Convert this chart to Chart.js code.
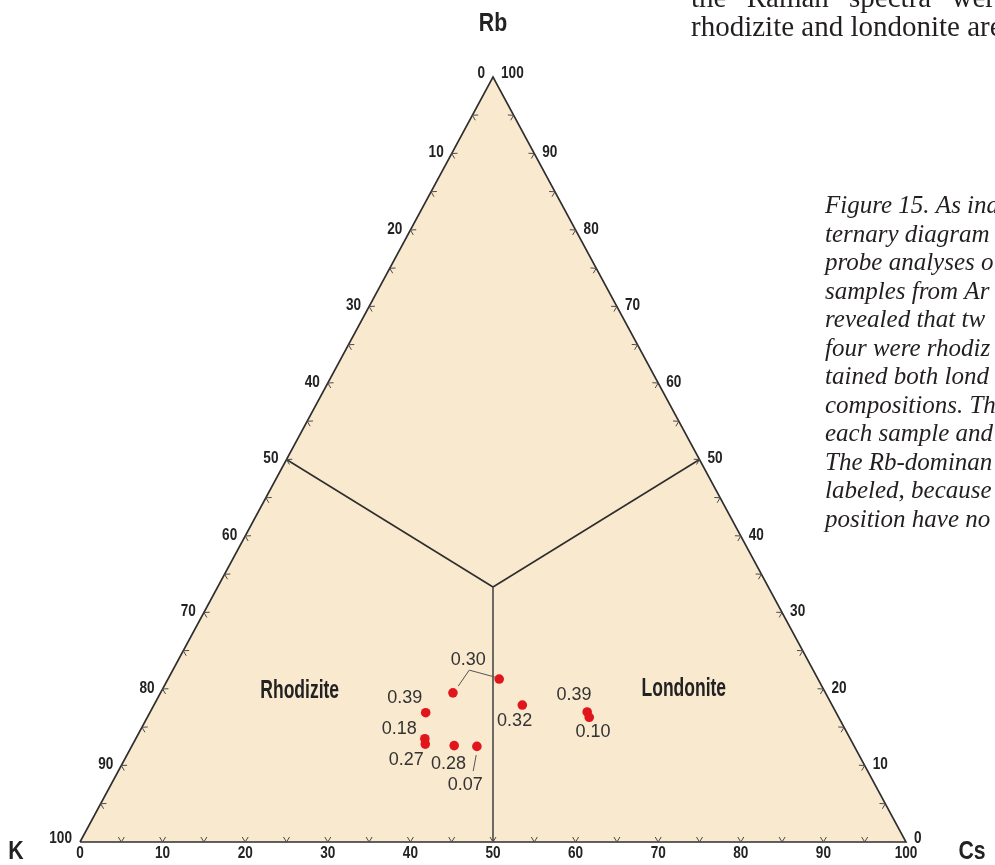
<!DOCTYPE html>
<html><head><meta charset="utf-8">
<script src="https://cdn.jsdelivr.net/npm/chart.js@4/dist/chart.umd.min.js"></script>
<style>html,body{margin:0;padding:0;background:#fff;overflow:hidden}canvas{display:block}</style>
</head><body>
<canvas id="c" width="995" height="865"></canvas>
<script>
// ---------- data (ternary compositions, %) ----------
const sampleLabels = ['0.30','0.30','0.39','0.18','0.27','0.28','0.07','0.32','0.39','0.10'];
const kPct  = [45.1, 38.6, 49.7, 51.5, 51.8, 48.4, 45.7, 37.5, 30.1, 30.2];
const rbPct = [19.5, 21.3, 16.9, 13.5, 12.8, 12.6, 12.5, 17.9, 17.0, 16.3];
const csPct = [35.4, 40.1, 33.4, 35.0, 35.4, 39.0, 41.8, 44.6, 52.9, 53.5];
const vertexNames = ['K', 'Rb', 'Cs'];
const fieldNames = ['Rhodizite', 'Londonite'];
const tickValues = [0,10,20,30,40,50,60,70,80,90,100];
const minorTickValues = [5,10,15,20,25,30,35,40,45,50,55,60,65,70,75,80,85,90,95];
const bodyLines = ['the Raman spectra were', 'rhodizite and londonite are'];
const captionLines = ['Figure 15. As ind','ternary diagram','probe analyses o','samples from Ar','revealed that tw','four were rhodiz','tained both lond','compositions. Th','each sample and','The Rb-dominan','labeled, because','position have no'];

// ---------- layout / style (not data) ----------
const FILL = '#f9e9cf', EDGE = '#2e2e2e', RED = '#e0161c';
const SANS = '"Liberation Sans", Arial, sans-serif';
const labelOffsets = [[15.3,-33],null,[-21,-14.4],[-25.7,-9.7],[-19,16],[-5.7,18.7],[-11.7,38.7],[-7.7,16],[-13.2,-17],[3.7,14.7]];
const leaders = [
  {from:0, pts:[[5.3,-6.7],[16.3,-22.7]], to:1, end:[-4.3,-2]},
  {from:6, pts:[[-0.7,8.7],[-3.7,24.7]]}
];
const fieldAnchors = [{x:26.6,y:19.7},{x:73.1,y:20.0}];
const bodyWordGap = [13, 0];   // extra px per space (justified text)

function tern(k, rb, cs){ return {x: cs + rb/2, y: rb}; }

const points = kPct.map((k,i)=>tern(k, rbPct[i], csPct[i]));
const vK = tern(100,0,0), vRb = tern(0,100,0), vCs = tern(0,0,100);
const center = tern(100/3,100/3,100/3);
const midB = tern(50,0,50), midL = tern(50,50,0), midR = tern(0,50,50);

const lineDs = (data, w, col) => ({type:'line', data, borderColor:col, borderWidth:w, pointRadius:0, fill:false, tension:0, clip:false});

function txt(ctx, s, x, y, sx, align){
  ctx.save(); ctx.translate(x,y); ctx.scale(sx,1); ctx.textAlign=align; ctx.fillText(s,0,0); ctx.restore();
}

const ternaryPlugin = {
  id:'ternary',
  beforeDatasetsDraw(chart){
    const {ctx, scales:{x,y}} = chart;
    const px = p => [x.getPixelForValue(p.x), y.getPixelForValue(p.y)];
    ctx.save();
    ctx.beginPath();
    [vK,vCs,vRb].forEach((p,i)=>{const q=px(p); i?ctx.lineTo(q[0],q[1]):ctx.moveTo(q[0],q[1]);});
    ctx.closePath(); ctx.fillStyle = FILL; ctx.fill();
    ctx.restore();
  },
  afterDatasetsDraw(chart){
    const {ctx, scales:{x,y}} = chart;
    const px = p => [x.getPixelForValue(p.x), y.getPixelForValue(p.y)];
    const cP = px(center);
    ctx.save();
    // tick chevrons
    ctx.strokeStyle = '#4a4a4a'; ctx.lineWidth = 1;
    const edges = [
      v => tern(100-v,0,v),
      v => tern(v,100-v,0),
      v => tern(0,v,100-v)
    ];
    edges.forEach(f=>{
      minorTickValues.forEach(v=>{
        const p = px(f(v)), q = px(f(v+1));
        let dx=q[0]-p[0], dy=q[1]-p[1]; const L=Math.hypot(dx,dy); dx/=L; dy/=L;
        let nx=-dy, ny=dx; if ((cP[0]-p[0])*nx+(cP[1]-p[1])*ny<0){nx=-nx;ny=-ny;}
        ctx.beginPath();
        ctx.moveTo(p[0]+dx*3+nx*5, p[1]+dy*3+ny*5);
        ctx.lineTo(p[0], p[1]);
        ctx.lineTo(p[0]-dx*3+nx*5, p[1]-dy*3+ny*5);
        ctx.stroke();
      });
    });
    // tick labels
    ctx.fillStyle = '#222'; ctx.font = 'bold 17px ' + SANS; ctx.textBaseline = 'middle';
    tickValues.forEach(v=>{
      const b = px(tern(100-v,0,v));
      txt(ctx, String(v), b[0], b[1]+11, 0.8, 'center');
      const l = px(tern(v,100-v,0));
      const dyL = (v===0||v===100)? -4 : -1;
      txt(ctx, String(v), l[0]-8, l[1]+dyL, 0.8, 'right');
      const r = px(tern(0,v,100-v));
      const dyR = (v===0||v===100)? -4 : -1;
      txt(ctx, String(v), r[0]+8, r[1]+dyR, 0.8, 'left');
    });
    // vertex names
    ctx.font = 'bold 25px ' + SANS;
    const a = px(vRb), k = px(vK), c = px(vCs);
    txt(ctx, vertexNames[1], a[0], a[1]-53, 0.85, 'center');
    txt(ctx, vertexNames[0], k[0]-64, k[1]+10, 0.85, 'center');
    txt(ctx, vertexNames[2], c[0]+66, c[1]+10, 0.85, 'center');
    // field names
    ctx.font = 'bold 25px ' + SANS;
    fieldNames.forEach((n,i)=>{const p=px(fieldAnchors[i]); txt(ctx, n, p[0], p[1], 0.7, 'center');});
    // leaders
    ctx.strokeStyle = '#555'; ctx.lineWidth = 1;
    leaders.forEach(ld=>{
      const p0 = px(points[ld.from]);
      ctx.beginPath();
      ld.pts.forEach((o,i)=>{const X=p0[0]+o[0],Y=p0[1]+o[1]; i?ctx.lineTo(X,Y):ctx.moveTo(X,Y);});
      if (ld.to!==undefined){const p1=px(points[ld.to]); ctx.lineTo(p1[0]+ld.end[0], p1[1]+ld.end[1]);}
      ctx.stroke();
    });
    // point labels
    ctx.fillStyle = '#333'; ctx.font = '18px ' + SANS; ctx.textAlign='center';
    sampleLabels.forEach((s,i)=>{
      const o = labelOffsets[i]; if(!o) return;
      const p = px(points[i]); ctx.fillText(s, p[0]+o[0], p[1]+o[1]);
    });
    // surrounding text
    ctx.fillStyle = '#231f20'; ctx.textAlign='left'; ctx.textBaseline='alphabetic';
    ctx.font = '29px "Liberation Serif", serif';
    bodyLines.forEach((t,i)=>{
      let cx = 691; const sp = ctx.measureText(' ').width + bodyWordGap[i];
      t.split(' ').forEach(w=>{ ctx.fillText(w, cx, 7 + i*28.5); cx += ctx.measureText(w).width + sp; });
    });
    ctx.font = 'italic 25px "Liberation Serif", serif';
    captionLines.forEach((t,i)=>ctx.fillText(t, 825, 213 + i*28.5));
    ctx.restore();
  }
};

new Chart(document.getElementById('c'), {
  type:'scatter',
  data:{datasets:[
    lineDs([vK,vCs,vRb,vK], 1.6, EDGE),
    lineDs([center, midB], 1.6, '#4a4a4a'),
    lineDs([center, midL], 1.6, EDGE),
    lineDs([center, midR], 1.6, EDGE),
    {type:'scatter', data:points, backgroundColor:RED, borderWidth:0, pointRadius:4.8, clip:false}
  ]},
  options:{
    responsive:false, animation:false, devicePixelRatio:1,
    layout:{padding:{left:80, right:89, top:77, bottom:23}},
    scales:{
      x:{type:'linear', min:0, max:100, display:false},
      y:{type:'linear', min:0, max:100, display:false}
    },
    plugins:{legend:{display:false}, tooltip:{enabled:false}}
  },
  plugins:[ternaryPlugin]
});
</script>
</body></html>
